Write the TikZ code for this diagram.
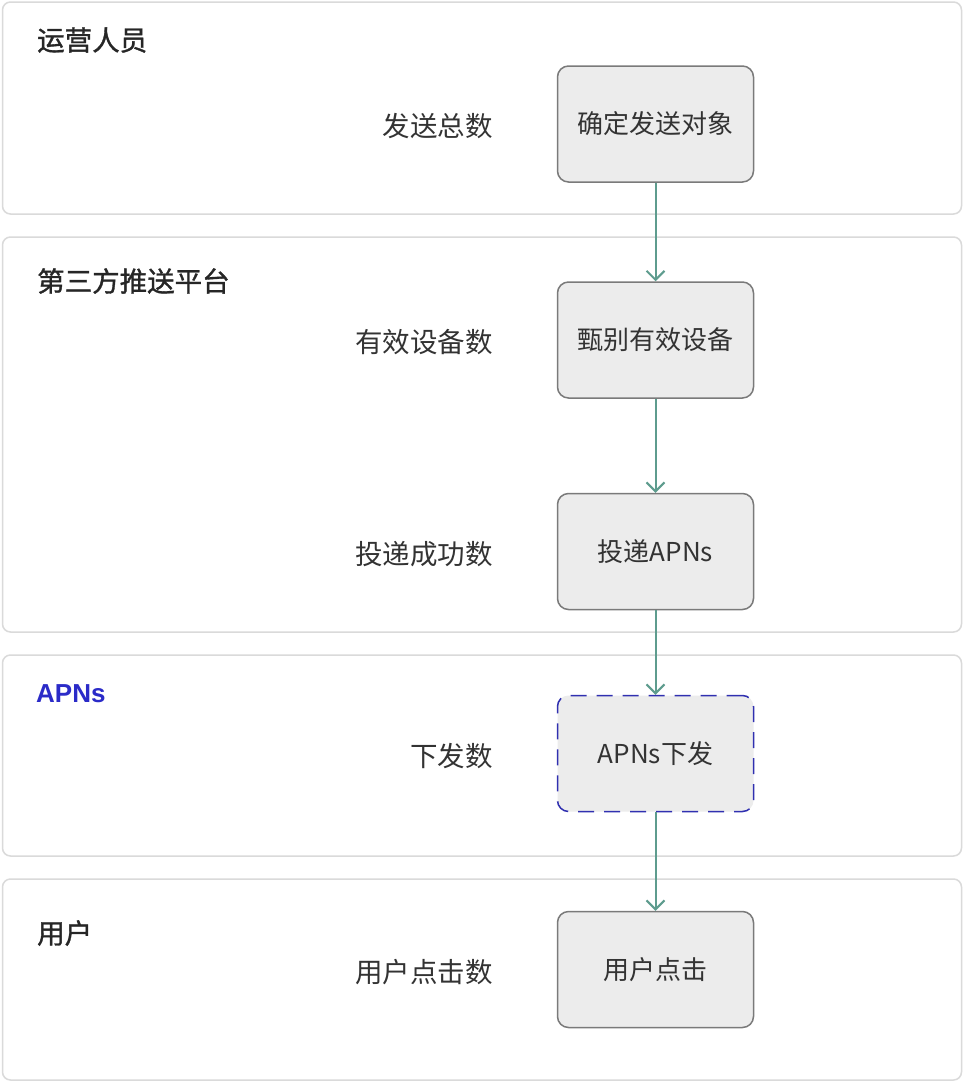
\documentclass[tikz,border=0pt]{standalone}
\usepackage{fontspec}
\setmainfont{Noto Sans CJK SC}
\newfontfamily\titlefont[FakeBold=1.2]{Noto Sans CJK SC}
\newfontfamily\apnsfont{Liberation Sans}
\usetikzlibrary{arrows.meta}
\definecolor{laneborder}{HTML}{DADADA}
\definecolor{boxborder}{HTML}{7A7A7A}
\definecolor{boxfill}{HTML}{ECECEC}
\definecolor{flow}{HTML}{5E9C8E}
\definecolor{navy}{HTML}{3030B0}
\definecolor{txt}{HTML}{333333}
\definecolor{apnsblue}{HTML}{2B2BC8}
\tikzset{
  lane/.style={draw=laneborder, line width=1.5pt, rounded corners=8pt, fill=white, minimum width=959pt, inner sep=0pt},
  stepbox/.style={draw=boxborder, line width=1.5pt, rounded corners=11pt, fill=boxfill, minimum width=196pt, minimum height=116pt, inner sep=0pt, text=txt, font=\fontsize{26}{30}\selectfont},
  dashbox/.style={stepbox, draw=navy, dash pattern=on 16pt off 10pt},
  lanetitle/.style={anchor=west, inner sep=0pt, text=black!85, font=\titlefont\fontsize{27.5}{32}\selectfont},
  metric/.style={anchor=east, inner sep=0pt, text=txt, font=\fontsize{27.5}{32}\selectfont},
  flowarrow/.style={draw=flow, line width=2pt, -{Straight Barb[length=9pt,width=18pt,line width=2pt]}}
}
\begin{document}
\begin{tikzpicture}[x=1pt,y=-1pt]
\useasboundingbox (0,0) rectangle (964,1082);
\fill[white] (0,0) rectangle (964,1082);
% lanes
\node[lane, minimum height=212pt] (L1) at (482,108) {};
\node[lane, minimum height=395pt] (L2) at (482,434.5) {};
\node[lane, minimum height=201pt] (L3) at (482,755.5) {};
\node[lane, minimum height=201pt] (L4) at (482,979.5) {};
% lane titles
\node[lanetitle] (T1) at (37,40) {运营人员};
\node[lanetitle] (T2) at (37,281) {第三方推送平台};
\node[lanetitle, text=apnsblue, font=\apnsfont\bfseries\fontsize{26}{30}\selectfont] (T3) at (36,694) {APNs};
\node[lanetitle] (T4) at (37,933) {用户};
% step boxes
\node[stepbox] (S1) at (655.5,124) {确定发送对象};
\node[stepbox] (S2) at (655.5,340) {甄别有效设备};
\node[stepbox] (S3) at (655.5,551.5) {投递APNs};
\node[dashbox] (S4) at (655.5,753.5) {APNs下发};
\node[stepbox] (S5) at (655.5,969.5) {用户点击};
% metrics
\node[metric] (M1) at (493,126) {发送总数};
\node[metric] (M2) at (493,342) {有效设备数};
\node[metric] (M3) at (493,554) {投递成功数};
\node[metric] (M4) at (493,756) {下发数};
\node[metric] (M5) at (493,972) {用户点击数};
% flows
\draw[flowarrow] (S1) -- (S2);
\draw[flowarrow] (S2) -- (S3);
\draw[flowarrow] (S3) -- (S4);
\draw[flowarrow] (S4) -- (S5);
\end{tikzpicture}
\end{document}
